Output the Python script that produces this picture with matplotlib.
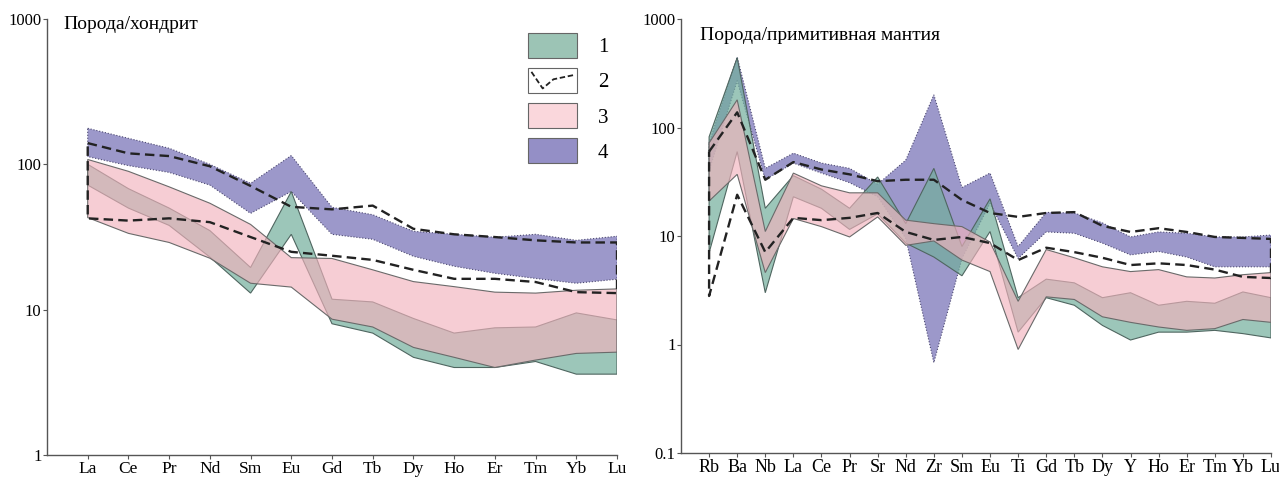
import numpy as np
import matplotlib
matplotlib.use("Agg")
import matplotlib.pyplot as plt
from matplotlib.patches import Patch, Rectangle
from matplotlib.lines import Line2D
from matplotlib.legend_handler import HandlerBase
from matplotlib.ticker import FixedLocator, FixedFormatter, NullLocator

plt.rcParams['font.family'] = ['Liberation Serif', 'DejaVu Serif']

# ---- left panel: rock / chondrite ----
ree = ['La', 'Ce', 'Pr', 'Nd', 'Sm', 'Eu', 'Gd', 'Tb', 'Dy', 'Ho', 'Er', 'Tm', 'Yb', 'Lu']
g1_hi = [100, 68, 50, 35, 19.5, 65, 11.8, 11.3, 8.7, 6.9, 7.5, 7.6, 9.5, 8.5]
g1_lo = [72, 50, 38, 23, 13, 33, 8.0, 6.9, 4.7, 4.0, 4.0, 4.4, 3.6, 3.6]
g2_hi = [140, 119, 114, 97, 71, 51, 49, 52, 36, 33, 31.6, 30, 29, 29]
g2_lo = [42.5, 41, 42.5, 40, 31.6, 25, 23.5, 22, 18.8, 16.3, 16.3, 15.5, 13.2, 13]
g3_hi = [108, 89.5, 70, 54, 38.6, 22.8, 22.5, 18.8, 15.6, 14.4, 13.2, 13.0, 13.6, 13.9]
g3_lo = [43, 33.5, 29, 22.6, 15.2, 14.3, 8.6, 7.6, 5.5, 4.7, 4.0, 4.5, 5.0, 5.1]
g4_hi = [177, 151, 129, 100, 74, 115, 50.6, 45, 34.6, 33, 31.5, 33, 30, 32]
g4_lo = [113, 98, 88, 72, 46, 65, 33, 30.5, 23.3, 19.9, 17.8, 16.4, 15.2, 16.2]

# ---- right panel: rock / primitive mantle ----
spider = ['Rb', 'Ba', 'Nb', 'La', 'Ce', 'Pr', 'Sr', 'Nd', 'Zr', 'Sm', 'Eu',
          'Ti', 'Gd', 'Tb', 'Dy', 'Y', 'Ho', 'Er', 'Tm', 'Yb', 'Lu']
h1_hi = [82, 440, 18, 36, 27, 18, 35, 13, 42, 8, 22, 2.7, 4.0, 3.7, 2.7, 3.0, 2.3, 2.5, 2.4, 3.05, 2.7]
h1_lo = [7, 60, 3.0, 23, 18, 11.5, 16, 8.6, 6.4, 4.3, 11, 1.3, 2.7, 2.3, 1.5, 1.1, 1.3, 1.3, 1.35, 1.26, 1.15]
h2_hi = [60, 138, 33, 48, 41, 37, 32, 33, 33, 21.5, 16.3, 15, 16.3, 16.6, 12.4, 10.9, 11.8, 10.9, 9.8, 9.6, 9.4]
h2_lo = [2.8, 24, 7.1, 14.7, 14, 14.7, 16.3, 10.9, 9.2, 9.8, 8.6, 6.0, 7.8, 7.1, 6.3, 5.4, 5.6, 5.4, 4.9, 4.2, 4.1]
h3_hi = [72, 180, 11, 38, 29, 25, 25, 14, 13, 12.2, 8.8, 2.5, 7.5, 6.3, 5.2, 4.7, 4.9, 4.2, 4.1, 4.4, 4.6]
h3_lo = [21, 37, 4.6, 14.5, 12.2, 9.8, 15, 8.2, 9.0, 6.0, 4.7, 0.9, 2.75, 2.6, 1.8, 1.6, 1.45, 1.35, 1.4, 1.7, 1.6]
h4_hi = [72, 447, 42, 58, 47, 42, 30, 50, 200, 28, 38, 8, 16.5, 16.3, 13.2, 9.8, 10.9, 10.6, 9.8, 9.8, 10.2]
h4_lo = [40, 270, 33, 47, 38, 31, 23, 9.5, 0.68, 6.2, 20, 6.2, 10.9, 10.6, 8.6, 6.7, 7.2, 6.4, 5.2, 5.2, 5.2]

GREEN = '#72ae9c'
PINK = '#f2b3bd'
PURPLE = '#948fc6'


def band(ax, hi, lo, face, alpha, edge, ls, z):
    x = np.arange(1, len(hi) + 1)
    xs = np.concatenate([x, x[::-1]])
    ys = np.concatenate([hi, lo[::-1]])
    ax.fill(xs, ys, facecolor=face, alpha=alpha, edgecolor='none', zorder=z)
    ax.fill(np.append(xs, xs[0]), np.append(ys, ys[0]), fill=False,
            edgecolor=edge, lw=0.8, ls=ls, zorder=z + 0.1)


def envelope(ax, hi, lo):
    x = np.arange(1, len(hi) + 1)
    xs = np.concatenate([x, x[::-1], x[:1]])
    ys = np.concatenate([hi, lo[::-1], hi[:1]])
    ax.plot(xs, ys, color='#222222', lw=1.7, ls=(0, (4, 2.2)), zorder=6)


def style(ax, names, ylo, yticks, xsize):
    ax.set_yscale('log')
    ax.set_xlim(0, len(names))
    ax.set_ylim(ylo, 1000)
    ax.xaxis.set_major_locator(FixedLocator(np.arange(1, len(names) + 1)))
    ax.xaxis.set_major_formatter(FixedFormatter(names))
    ax.yaxis.set_major_locator(FixedLocator(yticks))
    ax.yaxis.set_major_formatter(FixedFormatter([('%g' % t) for t in yticks]))
    ax.yaxis.set_minor_locator(NullLocator())
    for s in ['top', 'right']:
        ax.spines[s].set_visible(False)
    for s in ['left', 'bottom']:
        ax.spines[s].set_color('#555555')
        ax.spines[s].set_linewidth(1.0)
    ax.tick_params(axis='x', direction='out', length=3, color='#555555',
                   labelsize=xsize, pad=1.5)
    ax.tick_params(axis='y', direction='out', length=3, color='#555555',
                   labelsize=12, pad=1)


class DashedBox(HandlerBase):
    def create_artists(self, legend, orig_handle, xdescent, ydescent,
                       width, height, fontsize, trans):
        box = Rectangle((-xdescent, -ydescent), width, height, facecolor='white',
                        edgecolor='#666666', lw=0.8, transform=trans)
        xs = np.array([0.07, 0.3, 0.52, 0.93]) * width - xdescent
        ys = np.array([0.85, 0.18, 0.55, 0.72]) * height - ydescent
        ln = Line2D(xs, ys, color='#222222', lw=1.3, ls=(0, (3, 1.5)), transform=trans)
        return [box, ln]


fig = plt.figure(figsize=(12.79, 4.79), dpi=100)
ax1 = fig.add_axes([47 / 1279, 24 / 479, 570 / 1279, 436 / 479])
ax2 = fig.add_axes([681 / 1279, 26 / 479, 590 / 1279, 434 / 479])

for ax, d, names in [(ax1, (g1_hi, g1_lo, g2_hi, g2_lo, g3_hi, g3_lo, g4_hi, g4_lo), ree),
                     (ax2, (h1_hi, h1_lo, h2_hi, h2_lo, h3_hi, h3_lo, h4_hi, h4_lo), spider)]:
    band(ax, d[6], d[7], PURPLE, 0.92, '#4b4870', ':', 1)
    band(ax, d[0], d[1], GREEN, 0.7, '#4f6660', '-', 2)
    band(ax, d[4], d[5], PINK, 0.65, '#6a6a6a', '-', 3)
    envelope(ax, d[2], d[3])

style(ax1, ree, 1, [1, 10, 100, 1000], 12.5)
style(ax2, spider, 0.1, [0.1, 1, 10, 100, 1000], 13)

ax1.text(16 / 570, (455 - 25) / 436, 'Порода/хондрит', transform=ax1.transAxes,
         fontsize=14, ha='left', va='center')
ax2.text(19 / 590, (453 - 35) / 434, 'Порода/примитивная мантия', transform=ax2.transAxes,
         fontsize=14, ha='left', va='center')

handles = [Patch(facecolor='#9cc4b5', edgecolor='#666666', lw=0.8),
           Patch(facecolor='white'),
           Patch(facecolor='#fad7dc', edgecolor='#666666', lw=0.8),
           Patch(facecolor=PURPLE, edgecolor='#666666', lw=0.8)]
leg = ax1.legend(handles, ['1', '2', '3', '4'], loc='upper left',
                 bbox_to_anchor=((528 - 47) / 570, (455 - 33) / 436),
                 frameon=False, fontsize=15, borderpad=0, borderaxespad=0,
                 handlelength=2.35, handleheight=1.45, labelspacing=0.5,
                 handletextpad=1.0, handler_map={handles[1]: DashedBox()})

fig.savefig('out.png', dpi=100)
